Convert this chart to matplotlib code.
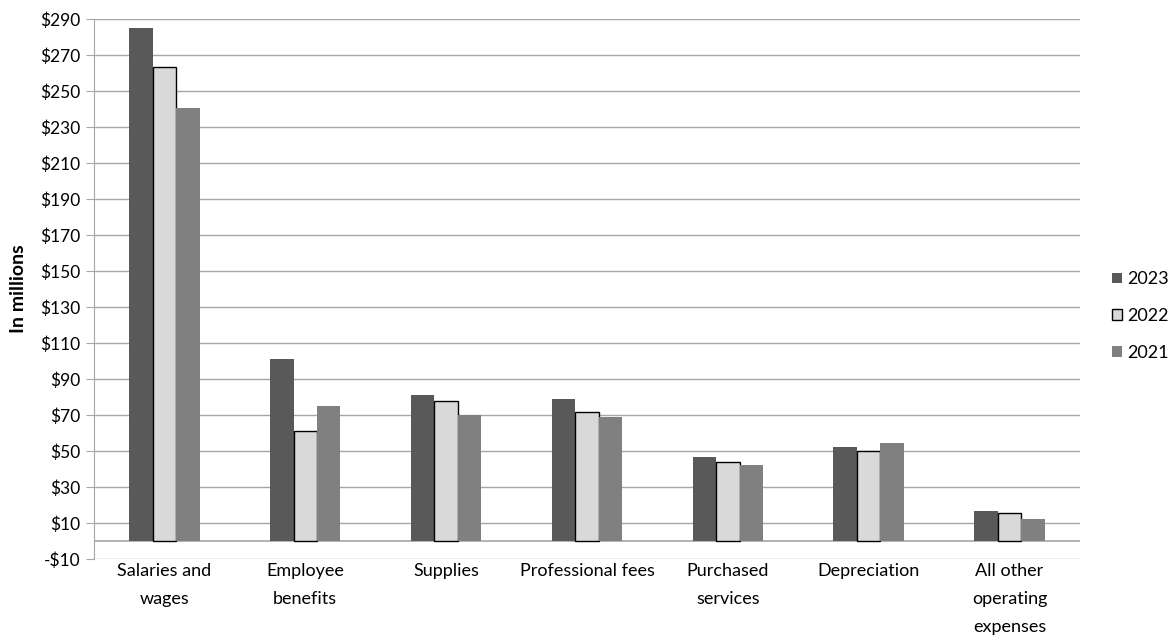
import numpy as np
import matplotlib.pyplot as plt

# ── data ─────────────────────────────────────────────────────────────────────
categories = ["Salaries and\nwages", "Employee\nbenefits", "Supplies",
              "Professional fees", "Purchased\nservices", "Depreciation",
              "All other\noperating\nexpenses"]
years = ["2023", "2022", "2021"]
vals_2023 = [285.2, 101.4, 81.0, 78.9, 46.5, 52.0, 16.5]
vals_2022 = [263.5, 61.0, 78.0, 71.7, 43.7, 50.2, 15.4]
vals_2021 = [240.7, 75.0, 70.3, 68.9, 42.0, 54.4, 12.0]
y_ticks = list(range(-10, 291, 20))

plt.rcParams["font.family"] = ["Lato", "DejaVu Sans"]

GRID = "#a6a6a6"
colors = ["#595959", "#d9d9d9", "#808080"]
edges = ["none", "black", "none"]

fig = plt.figure(figsize=(11.72, 6.42), dpi=100)
ax = fig.add_axes([0.0802, 0.1293, 0.9215 - 0.0802, 0.970 - 0.1293])

x = np.arange(len(categories))
w = 1 / 6
series = [vals_2023, vals_2022, vals_2021]
for i, (vals, yr) in enumerate(zip(series, years)):
    ax.bar(x + (i - 1) * w, vals, width=w, color=colors[i],
           edgecolor=edges[i], linewidth=1.0, label=yr, zorder=3)

ax.set_xlim(-0.5, len(categories) - 0.5)
ax.set_ylim(-10, 290)
ax.set_yticks(y_ticks)
ax.set_yticklabels([f"-${-v}" if v < 0 else f"${v}" for v in y_ticks],
                   fontsize=12.5)
ax.yaxis.grid(True, color=GRID, linewidth=1.0, zorder=0)
ax.axhline(0, color=GRID, linewidth=1.2, zorder=2)

ax.set_xticks(x)
ax.set_xticklabels(categories, fontsize=13, linespacing=1.9)
ax.tick_params(axis="x", length=0, pad=3)
ax.tick_params(axis="y", length=6, color=GRID, pad=4)

for s in ["top", "right", "bottom"]:
    ax.spines[s].set_visible(False)
ax.spines["left"].set_color(GRID)

ax.set_ylabel("In millions", fontsize=14, fontweight="bold", labelpad=9)

leg = ax.legend(loc="center left", bbox_to_anchor=(1.016, 0.45), frameon=False,
                fontsize=13, handlelength=0.55, handleheight=0.55,
                handletextpad=0.3, labelspacing=1.15)

fig.savefig("out.png", dpi=100)
